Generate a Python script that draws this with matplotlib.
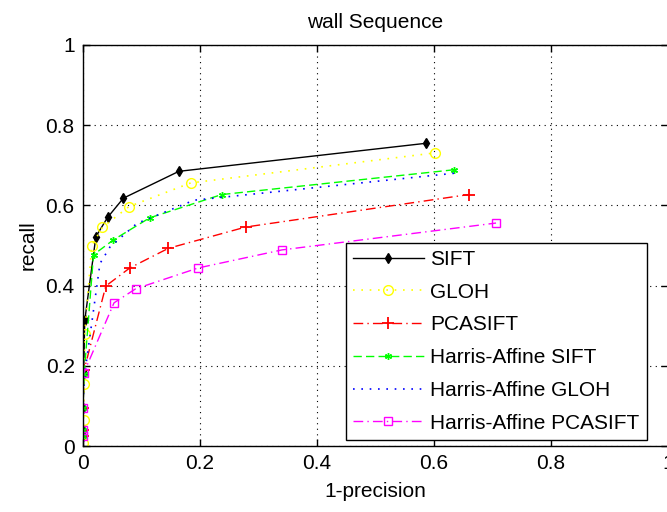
import numpy as np
import matplotlib
matplotlib.use("Agg")
import matplotlib.pyplot as plt

# ── Data ─────────────────────────────────────────────────────────────────────
sift_x = [0, 0, 0, 0.001, 0.003, 0.022, 0.042, 0.069, 0.164, 0.587]
sift_y = [0.025, 0.04, 0.094, 0.181, 0.313, 0.522, 0.570, 0.618, 0.685, 0.755]

gloh_x = [0, 0.001, 0.002, 0.003, 0.015, 0.033, 0.0785, 0.184, 0.602]
gloh_y = [0.008, 0.066, 0.154, 0.28, 0.50, 0.545, 0.597, 0.656, 0.731]

pca_x = [0, 0, 0, 0.002, 0.039, 0.080, 0.146, 0.278, 0.659]
pca_y = [0.025, 0.04, 0.094, 0.19, 0.399, 0.444, 0.493, 0.546, 0.627]

ha_sift_x = [0, 0, 0, 0.002, 0.018, 0.052, 0.114, 0.237, 0.635]
ha_sift_y = [0.025, 0.04, 0.094, 0.18, 0.477, 0.514, 0.569, 0.627, 0.689]

ha_gloh_x = [0, 0, 0, 0.002, 0.029, 0.046, 0.092, 0.19, 0.64]
ha_gloh_y = [0.025, 0.04, 0.094, 0.17, 0.455, 0.496, 0.555, 0.613, 0.681]

ha_pca_x = [0, 0, 0, 0.001, 0.053, 0.090, 0.197, 0.340, 0.706]
ha_pca_y = [0.025, 0.04, 0.094, 0.181, 0.357, 0.392, 0.444, 0.489, 0.556]

ticks = [0, 0.2, 0.4, 0.6, 0.8, 1]
tick_labels = ["0", "0.2", "0.4", "0.6", "0.8", "1"]

plt.rcParams.update({
    "font.family": ["Liberation Sans", "DejaVu Sans"],
    "font.size": 15,
})

fig = plt.figure(figsize=(6.67, 5.12), dpi=100)
ax = fig.add_axes([83 / 667, 1 - 446 / 512, 585 / 667, 401 / 512])

ax.plot(sift_x, sift_y, color="black", linestyle="-", linewidth=1,
        marker="d", markersize=5, markerfacecolor="black", label="SIFT")
ax.plot(gloh_x, gloh_y, color="yellow", linestyle=(0, (1, 4)), linewidth=1.2,
        marker="o", markersize=7, markerfacecolor="none", label="GLOH")
ax.plot(pca_x, pca_y, color="red", linestyle=(0, (7, 3, 1, 3)), linewidth=1,
        marker="+", markersize=9, markeredgewidth=1.3, label="PCASIFT")
ax.plot(ha_sift_x, ha_sift_y, color="#00ff00", linestyle=(0, (6, 3)), linewidth=1,
        marker=(6, 2, 0), markersize=5, label="Harris-Affine SIFT")
ax.plot(ha_gloh_x, ha_gloh_y, color="blue", linestyle=(0, (1, 4)), linewidth=1.2,
        label="Harris-Affine GLOH")
ax.plot(ha_pca_x, ha_pca_y, color="magenta", linestyle=(0, (7, 3, 1, 3)), linewidth=1,
        marker="s", markersize=6, markerfacecolor="none", label="Harris-Affine PCASIFT")

ax.set_xlim(0, 1)
ax.set_ylim(0, 1)
ax.set_xticks(ticks)
ax.set_xticklabels(tick_labels)
ax.set_yticks(ticks)
ax.set_yticklabels(tick_labels)
ax.tick_params(direction="in", top=True, right=True, length=5, width=1, pad=6)
ax.grid(True, color="black", linestyle=(0, (1, 4)), linewidth=0.8)
for s in ax.spines.values():
    s.set_linewidth(1)

ax.set_title("wall Sequence", pad=12, fontsize=15)
ax.set_xlabel("1-precision", labelpad=6)
ax.set_ylabel("recall", labelpad=6)

leg = ax.legend(loc="upper left", bbox_to_anchor=(0.449, 0.507), fancybox=False,
                framealpha=1, edgecolor="black", borderpad=0.35, labelspacing=0.66,
                handlelength=3.4, handletextpad=0.3, borderaxespad=0)
leg.get_frame().set_linewidth(1)

fig.savefig("out.png", dpi=100)
